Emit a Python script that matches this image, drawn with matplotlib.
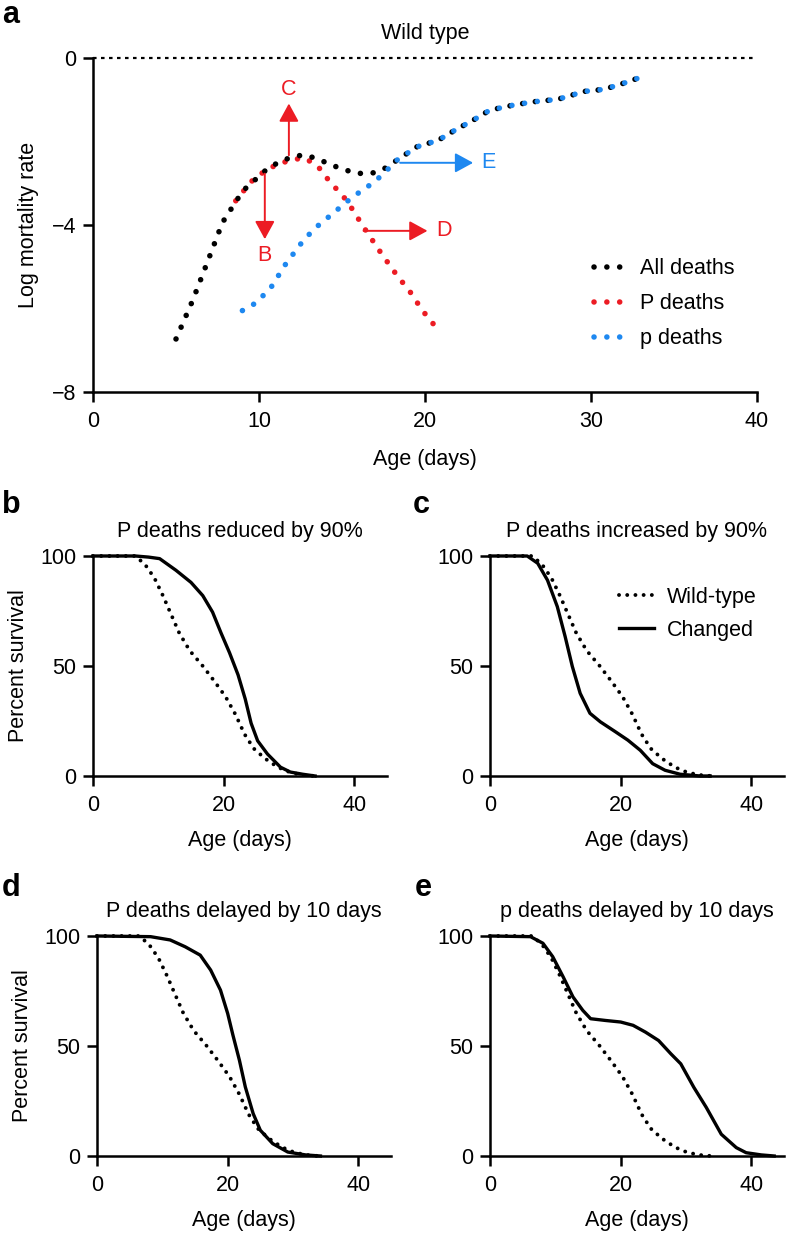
import matplotlib
matplotlib.use('Agg')
import matplotlib.pyplot as plt
from matplotlib.lines import Line2D

plt.rcParams['font.family'] = ['Liberation Sans', 'DejaVu Sans']
plt.rcParams['font.size'] = 15.5

W, H = 788, 1234
RED = '#ec1c24'
BLUE = '#1e88f0'

# Panel a: log mortality rate vs age (days)
all_x = [5.0, 6.0, 6.9, 7.8, 8.7, 9.2, 10.4, 11.2, 12.0, 12.7, 13.5, 14.4, 15.8, 16.7, 17.4,
         18.6, 19.5, 20.8, 21.8, 22.9, 23.9, 25.3, 26.5, 28.0, 29.6, 30.8, 32.0, 33.0]
all_y = [-6.73, -5.81, -4.88, -3.94, -3.38, -3.12, -2.69, -2.49, -2.37, -2.32, -2.41, -2.57, -2.76, -2.77, -2.69,
         -2.37, -2.13, -1.97, -1.73, -1.49, -1.25, -1.13, -1.05, -0.99, -0.80, -0.75, -0.60, -0.46]
P_x = [8.6, 9.5, 10.4, 11.2, 12.0, 12.7, 13.5, 14.2, 15.3, 16.3, 17.4, 18.3, 19.1, 19.85, 20.5]
P_y = [-3.42, -2.97, -2.69, -2.53, -2.44, -2.39, -2.57, -2.93, -3.42, -4.05, -4.70, -5.20, -5.60, -6.05, -6.37]
p_x = [9.0, 9.8, 10.7, 11.6, 12.5, 13.3, 14.4, 15.6, 16.8, 17.4, 18.3, 19.5, 20.8, 21.8, 22.9,
       23.9, 25.3, 26.5, 28.0, 29.6, 30.8, 32.0, 33.0]
p_y = [-6.05, -5.87, -5.51, -4.94, -4.46, -4.10, -3.74, -3.34, -3.01, -2.81, -2.45, -2.13, -1.97, -1.73, -1.49,
       -1.25, -1.13, -1.05, -0.99, -0.80, -0.75, -0.60, -0.46]

# Survival curves (percent) - wild type is the same in b-e
wt_x = [0, 6.5, 8, 9.4, 10.7, 11.8, 13.2, 14.8, 16.8, 18.6, 20.3, 21.8, 23.2, 24.6, 26.3, 28.3, 30.3, 32.5, 34]
wt_y = [100, 100, 96, 90, 82, 74.5, 65, 57, 50, 43, 36, 28, 19, 12.5, 8, 4, 1.5, 0.3, 0]

b_x = [0, 6.5, 8.5, 10.2, 12.7, 15, 16.8, 18.3, 19.6, 20.9, 22.2, 23.3, 24.2, 25.2, 26.7, 28.7, 30.2, 32.1, 34]
b_y = [100, 100, 99.5, 98.8, 93.5, 88, 82, 74.5, 65, 56, 46, 35, 24, 16, 10, 4, 1.8, 0.8, 0]

c_x = [0, 5.7, 7.3, 8.8, 10.3, 11.5, 12.6, 13.8, 15.3, 16.9, 19.2, 21.1, 23.0, 24.9, 26.8, 29.1, 32.2, 33.7]
c_y = [100, 100, 96.7, 89, 77, 63.4, 49.8, 37.6, 28.5, 24.6, 20.1, 16.3, 11.7, 5.6, 2.6, 0.8, 0, 0]

d_x = [0, 8.2, 11.2, 13.5, 15.8, 17.4, 18.9, 20.0, 20.8, 21.8, 22.7, 23.9, 25.0, 26.9, 29.2, 31.9, 34.2]
d_y = [100, 99.7, 98.2, 95.1, 91.3, 84.5, 75.4, 64.8, 55, 43.5, 31.4, 19.3, 11.7, 5.6, 1.8, 0.5, 0]

e_x = [0, 6.2, 8.1, 9.6, 11.2, 12.7, 14.2, 15.4, 17.7, 20.0, 21.9, 23.8, 25.8, 27.7, 29.2, 31.2,
       33.1, 35.4, 37.7, 39.2, 41.5, 43.5]
e_y = [100, 99.7, 96.7, 90.6, 81.4, 72.3, 66.2, 62.4, 61.6, 60.9, 59.4, 56.3, 52.5, 46.4, 41.9, 31.2,
       22.1, 9.9, 3.8, 1.5, 0.5, 0]

titles = ['P deaths reduced by 90%', 'P deaths increased by 90%',
          'P deaths delayed by 10 days', 'p deaths delayed by 10 days']


def box(l, t, r, b):
    return [l / W, 1 - b / H, (r - l) / W, (b - t) / H]


def style_axes(ax):
    for s in ['top', 'right']:
        ax.spines[s].set_visible(False)
    for s in ['left', 'bottom']:
        ax.spines[s].set_linewidth(1.8)
    ax.tick_params(direction='out', length=7, width=1.8, labelsize=15.5)
    ax.tick_params(axis='x', pad=7)
    ax.tick_params(axis='y', pad=5)


fig = plt.figure(figsize=(W / 100, H / 100), dpi=100)

# ---- panel a ----
ax = fig.add_axes(box(93, 58, 757, 392))
style_axes(ax)
ax.set_xlim(0, 40)
ax.set_ylim(-8, 0)
ax.set_xticks([0, 10, 20, 30, 40])
ax.set_yticks([-8, -4, 0])
ax.axhline(0, color='black', lw=1.6, linestyle=(0, (1.6, 2.0)), clip_on=False)

dots = dict(lw=4.0, linestyle=(0, (0.01, 2.3)), dash_capstyle='round', clip_on=False)
ax.plot(P_x, P_y, color=RED, label='P deaths', **dots)
ax.plot(all_x, all_y, color='black', label='All deaths', **dots)
ax.plot(p_x, p_y, color=BLUE, label='p deaths', **dots)

handles = [Line2D([], [], color=c, **dots) for c in ['black', RED, BLUE]]
ax.legend(handles, ['All deaths', 'P deaths', 'p deaths'], frameon=False,
          loc='upper left', bbox_to_anchor=(0.755, 0.40), borderpad=0, borderaxespad=0,
          handlelength=1.6, handletextpad=0.5, labelspacing=0.65, fontsize=15.5)

arrow = dict(arrowstyle='-|>,head_length=0.55,head_width=0.3', lw=1.4,
             shrinkA=0, shrinkB=0, mutation_scale=20)
ax.annotate('', xy=(11.8, -1.09), xytext=(11.8, -2.33), arrowprops=dict(color=RED, **arrow))
ax.text(11.8, -0.75, 'C', color=RED, ha='center', va='center', fontsize=15.5)
ax.annotate('', xy=(10.35, -4.34), xytext=(10.35, -2.77), arrowprops=dict(color=RED, **arrow))
ax.text(10.35, -4.74, 'B', color=RED, ha='center', va='center', fontsize=15.5)
ax.annotate('', xy=(20.15, -4.14), xytext=(16.3, -4.14), arrowprops=dict(color=RED, **arrow))
ax.text(20.7, -4.14, 'D', color=RED, ha='left', va='center', fontsize=15.5)
ax.annotate('', xy=(22.9, -2.51), xytext=(18.5, -2.51), arrowprops=dict(color=BLUE, **arrow))
ax.text(23.4, -2.51, 'E', color=BLUE, ha='left', va='center', fontsize=15.5)

ax.set_title('Wild type', fontsize=15.5, pad=14)
ax.set_xlabel('Age (days)', fontsize=15.5, labelpad=12)
ax.set_ylabel('Log mortality rate', fontsize=15.5, labelpad=9)

# ---- panels b-e ----
boxes = [box(93, 556, 387, 776), box(490, 556, 784, 776),
         box(97, 936, 391, 1156), box(490, 936, 784, 1156)]
changed = [(b_x, b_y), (c_x, c_y), (d_x, d_y), (e_x, e_y)]
small_dots = dict(lw=2.8, linestyle=(0, (0.01, 2.1)), dash_capstyle='round')

for i in range(4):
    ax = fig.add_axes(boxes[i])
    style_axes(ax)
    ax.set_xlim(0, 45)
    ax.set_ylim(0, 100)
    ax.set_xticks([0, 20, 40])
    ax.set_yticks([0, 50, 100])
    ax.plot(wt_x, wt_y, color='black', clip_on=False, label='Wild-type', **small_dots)
    ax.plot(changed[i][0], changed[i][1], color='black', lw=2.4, clip_on=False,
            solid_joinstyle='round', label='Changed')
    ax.set_title(titles[i], fontsize=15.5, pad=14)
    ax.set_xlabel('Age (days)', fontsize=15.5, labelpad=10)
    if i in (0, 2):
        ax.set_ylabel('Percent survival', fontsize=15.5, labelpad=8)
    if i == 1:
        ax.legend(frameon=False, loc='upper left', bbox_to_anchor=(0.44, 0.86),
                  borderpad=0, borderaxespad=0, handlelength=1.6, handletextpad=0.6,
                  labelspacing=0.55, fontsize=15.5)

for letter, x, y in [('a', 2, 15), ('b', 2, 505), ('c', 413, 505), ('d', 2, 888), ('e', 415, 888)]:
    fig.text(x / W, 1 - y / H, letter, fontsize=22, fontweight='bold', va='center', ha='left')

fig.savefig('out.png', dpi=100)
